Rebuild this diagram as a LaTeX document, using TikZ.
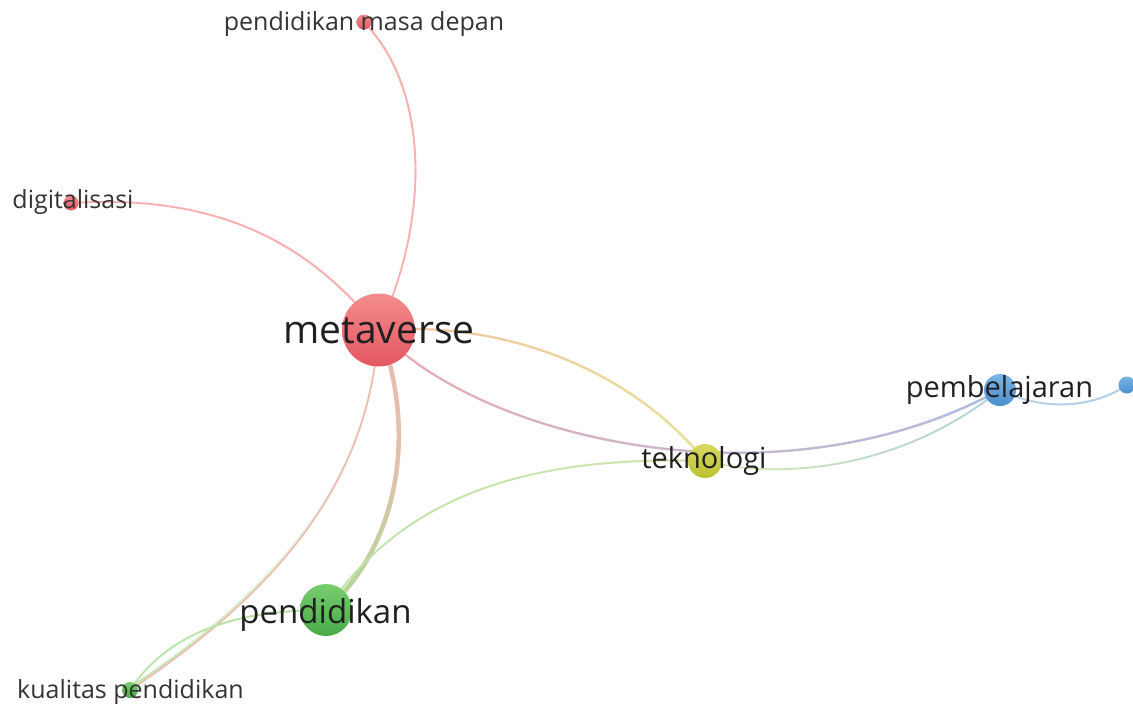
\documentclass[tikz,border=0pt]{standalone}
\usepackage{fontspec}
\setmainfont{Open Sans}
\usetikzlibrary{fadings}
\pgfdeclarelayer{bg}
\pgfsetlayers{bg,main}
\definecolor{redE}{RGB}{246,176,176}
\definecolor{redE2}{RGB}{236,188,178}
\definecolor{orE}{RGB}{244,192,165}
\definecolor{yelE}{RGB}{230,230,150}
\definecolor{pinkE}{RGB}{234,172,176}
\definecolor{blueE}{RGB}{170,192,232}
\definecolor{grnE}{RGB}{172,220,150}
\definecolor{grnE2}{RGB}{186,228,166}
\definecolor{ygE}{RGB}{214,232,172}
\definecolor{blueE2}{RGB}{180,208,230}
\definecolor{redT}{RGB}{243,140,140}
\definecolor{redB}{RGB}{228,86,96}
\definecolor{grnT}{RGB}{120,205,110}
\definecolor{grnB}{RGB}{72,170,72}
\definecolor{yelT}{RGB}{214,217,95}
\definecolor{yelB}{RGB}{190,192,50}
\definecolor{bluT}{RGB}{122,180,230}
\definecolor{bluB}{RGB}{74,143,207}
\definecolor{txt}{RGB}{32,32,32}
\definecolor{txt2}{RGB}{52,52,52}
\tikzfading[name=fadeR, left color=transparent!100, right color=transparent!0]
\tikzfading[name=fadeLow, left color=transparent!100, right color=transparent!0, middle color=transparent!85]
\newcommand\gedge[6]{%
  \draw[line width=#4, #2] #1;
  \draw[line width=#4, #3, path fading=#6, fading angle=#5] #1;}
\begin{document}
\begin{tikzpicture}[x=1pt,y=-1pt,
  vnode/.style={circle, inner sep=0pt, draw=none},
  lbl/.style={anchor=base, inner sep=0pt, text=txt},
  slbl/.style={anchor=base, inner sep=0pt, text=txt2, font=\fontsize{25}{25}\selectfont}]
\useasboundingbox (0,0) rectangle (1133,704);
% nodes
\node[vnode, minimum size=73pt, top color=redT, bottom color=redB] (m) at (378.5,330) {};
\node[vnode, minimum size=15pt, top color=redT, bottom color=redB] (pmd) at (364,22) {};
\node[vnode, minimum size=15pt, top color=redT, bottom color=redB] (d) at (71,203) {};
\node[vnode, minimum size=52pt, top color=grnT, bottom color=grnB] (p) at (326,610) {};
\node[vnode, minimum size=16pt, top color=grnT, bottom color=grnB] (k) at (130,690) {};
\node[vnode, minimum size=34pt, top color=yelT, bottom color=yelB] (t) at (705,461) {};
\node[vnode, minimum size=32pt, top color=bluT, bottom color=bluB] (pb) at (1000,390) {};
\node[vnode, minimum size=17pt, top color=bluT, bottom color=bluB] (r) at (1127,385) {};
% edges
\begin{pgfonlayer}{bg}
\gedge{(m.center) .. controls (430,220) and (430,90) .. (pmd.center)}{redE}{redE}{1.8pt}{90}{fadeR}
\gedge{(d.center) .. controls (200,195) and (300,230) .. (m.center)}{redE}{redE}{1.8pt}{0}{fadeR}
\gedge{(m.center) .. controls (520,320) and (640,380) .. (t.center)}{orE}{yelE}{2.2pt}{0}{fadeR}
\gedge{(m.center) .. controls (480,440) and (780,510) .. (pb.center)}{pinkE}{blueE}{2.2pt}{0}{fadeR}
\gedge{(m.center) .. controls (415,420) and (405,540) .. (p.center)}{redE2}{grnE}{4.5pt}{270}{fadeLow}
\gedge{(m.center) .. controls (370,480) and (280,590) .. (k.center)}{redE2}{grnE2}{1.8pt}{270}{fadeLow}
\gedge{(p.center) .. controls (400,500) and (520,455) .. (t.center)}{grnE2}{ygE}{1.8pt}{0}{fadeR}
\gedge{(k.center) .. controls (170,630) and (240,610) .. (p.center)}{grnE2}{grnE2}{1.8pt}{0}{fadeR}
\gedge{(t.center) .. controls (780,480) and (900,470) .. (pb.center)}{ygE}{blueE2}{1.8pt}{0}{fadeR}
\gedge{(pb.center) .. controls (1040,410) and (1090,410) .. (r.center)}{blueE2}{blueE2}{1.8pt}{0}{fadeR}
\end{pgfonlayer}
% labels
\node[lbl, font=\fontsize{39}{39}\selectfont] (lm) at (379,343) {metaverse};
\node[lbl, font=\fontsize{33}{33}\selectfont] (lp) at (325.5,623) {pendidikan};
\node[lbl, font=\fontsize{29}{29}\selectfont] (lt) at (704,468) {teknologi};
\node[lbl, font=\fontsize{29}{29}\selectfont] (lpb) at (999.5,397) {pembelajaran};
\node[slbl] (ld) at (73,208) {digitalisasi};
\node[slbl] (lpmd) at (364,30) {pendidikan masa depan};
\node[slbl] (lk) at (130.5,698) {kualitas pendidikan};
\end{tikzpicture}
\end{document}
